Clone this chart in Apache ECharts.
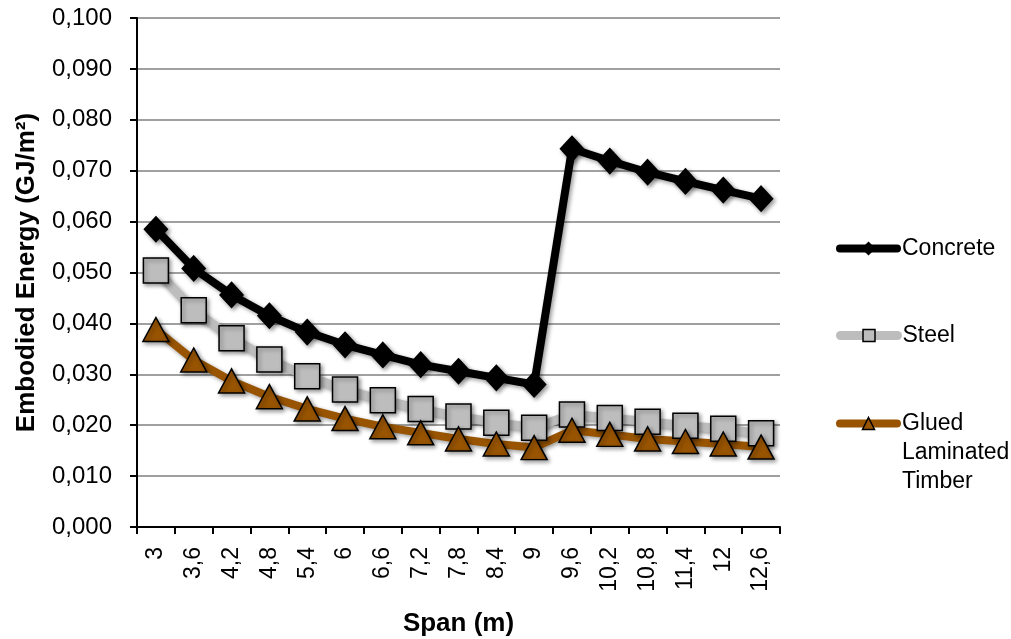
<!DOCTYPE html>
<html>
<head>
<meta charset="utf-8">
<script src="https://cdn.jsdelivr.net/npm/echarts@6/dist/echarts.min.js"></script>
<style>
html,body{margin:0;padding:0;background:#fff;}
#chart{width:1011px;height:639px;}
</style>
</head>
<body>
<div id="chart"></div>
<script>
// Span categories (m)
const spans = ['3','3,6','4,2','4,8','5,4','6','6,6','7,2','7,8','8,4','9','9,6','10,2','10,8','11,4','12','12,6'];
// Embodied energy per floor area (GJ/m²)
const concrete = [0.0585,0.0508,0.0456,0.0415,0.0383,0.0358,0.0338,0.0319,0.0306,0.0293,0.0280,0.0743,0.0719,0.0697,0.0679,0.0662,0.0645];
const steel    = [0.0504,0.0426,0.0371,0.0329,0.0296,0.0270,0.0249,0.0232,0.0217,0.0205,0.0195,0.0221,0.0214,0.0207,0.0199,0.0193,0.0184];
const timber   = [0.0388,0.0328,0.0287,0.0256,0.0232,0.0213,0.0197,0.0185,0.0173,0.0163,0.0156,0.0190,0.0182,0.0173,0.0168,0.0163,0.0157];

const FONT = 'Liberation Sans, Arial, sans-serif';
const shadow = {shadowBlur: 4, shadowOffsetX: 2, shadowOffsetY: 2, shadowColor: 'rgba(0,0,0,0.4)'};

const chart = echarts.init(document.getElementById('chart'), null, {renderer: 'canvas'});

function lineSeries(name, data, color, width, symbol, size, fill) {
  return {
    name: name,
    type: 'line',
    data: data,
    symbol: symbol,
    symbolSize: size,
    showAllSymbol: true,
    lineStyle: Object.assign({color: color, width: width, join: 'round', cap: 'round'}, shadow),
    itemStyle: Object.assign({color: fill, borderColor: '#000', borderWidth: 1.5}, shadow),
    emphasis: {disabled: true},
    z: 2
  };
}

// one legend block per series so each entry can sit at its own height
function legendAt(name, top, lineWidth) {
  return {
    data: [name],
    orient: 'vertical',
    left: 836,
    top: top,
    padding: 0,
    itemWidth: 57,
    itemHeight: 15,
    itemGap: 0,
    selectedMode: false,
    lineStyle: {width: lineWidth, cap: 'round', shadowBlur: 0, shadowOffsetX: 0, shadowOffsetY: 0},
    itemStyle: {borderWidth: 1.5, shadowBlur: 0, shadowOffsetX: 0, shadowOffsetY: 0},
    // two blank lines ahead of the wrapped name keep "Glued" level with the icon
    formatter: n => n === 'Glued Laminated Timber' ? '\n\nGlued\nLaminated\nTimber' : n,
    textStyle: {fontFamily: FONT, fontSize: 23, color: '#000', lineHeight: 29}
  };
}

chart.setOption({
  animation: false,
  backgroundColor: '#fff',
  textStyle: {fontFamily: FONT},
  grid: {left: 137, right: 231, top: 18, bottom: 112, containLabel: false, outerBoundsMode: 'none'},
  legend: [
    legendAt('Concrete', 234, 8),
    legendAt('Steel', 321, 9),
    legendAt('Glued Laminated Timber', 351, 8)
  ],
  xAxis: {
    type: 'category',
    data: spans,
    boundaryGap: true,
    name: 'Span (m)',
    nameLocation: 'middle',
    nameGap: 84,
    nameTextStyle: {fontFamily: FONT, fontSize: 26, fontWeight: 'bold', color: '#000'},
    axisLine: {lineStyle: {color: '#000', width: 2}},
    axisTick: {show: true, length: 7, lineStyle: {color: '#000', width: 2}},
    axisLabel: {rotate: 90, margin: 20, fontFamily: FONT, fontSize: 23, color: '#000', interval: 0},
    splitLine: {show: false}
  },
  yAxis: {
    type: 'value',
    min: 0,
    max: 0.1,
    interval: 0.01,
    name: 'Embodied Energy (GJ/m²)',
    nameLocation: 'middle',
    nameGap: 97,
    nameTextStyle: {fontFamily: FONT, fontSize: 26, fontWeight: 'bold', color: '#000'},
    axisLine: {show: true, lineStyle: {color: '#000', width: 2}},
    axisTick: {show: true, length: 7, lineStyle: {color: '#000', width: 2}},
    axisLabel: {
      margin: 25, fontFamily: FONT, fontSize: 24, color: '#000',
      formatter: v => v.toFixed(3).replace('.', ',')
    },
    splitLine: {show: true, lineStyle: {color: '#a0a0a0', width: 2}}
  },
  series: [
    lineSeries('Concrete', concrete, '#000000', 8, 'diamond', [23, 25], '#000000'),
    lineSeries('Steel', steel, '#bdbdbd', 9, 'rect', 25, '#bdbdbd'),
    lineSeries('Glued Laminated Timber', timber, '#985400', 8, 'triangle', [26, 24], '#985400')
  ]
});
</script>
</body>
</html>
